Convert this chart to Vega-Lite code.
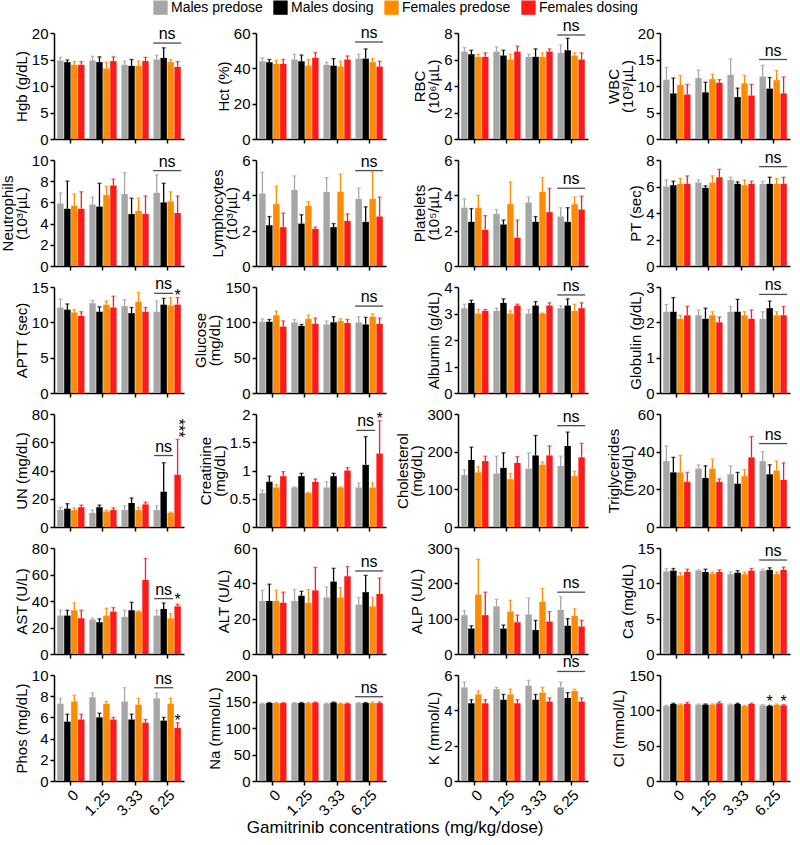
{
"$schema":"https://vega.github.io/schema/vega-lite/v6.json",
"padding":{"left":0,"top":0,"right":4,"bottom":2},
"columns":4,
"bounds":"flush",
"spacing":{"row":21,"column":72},
"title":{"text":"Gamitrinib concentrations (mg/kg/dose)","orient":"bottom","anchor":"middle","fontSize":17,"fontWeight":"normal","offset":2},
"data":{"values":[
{"p":"Hgb","x":"0","g":"Males predose","m":14.8,"h":15.4},{"p":"Hgb","x":"0","g":"Males dosing","m":14.5,"h":14.9},{"p":"Hgb","x":"0","g":"Females predose","m":14,"h":14.6},{"p":"Hgb","x":"0","g":"Females dosing","m":14,"h":14.6},
{"p":"Hgb","x":"1.25","g":"Males predose","m":14.8,"h":15.6},{"p":"Hgb","x":"1.25","g":"Males dosing","m":14.5,"h":15.5},{"p":"Hgb","x":"1.25","g":"Females predose","m":13.3,"h":14.5},{"p":"Hgb","x":"1.25","g":"Females dosing","m":14.7,"h":15.5},
{"p":"Hgb","x":"3.33","g":"Males predose","m":14,"h":14.7},{"p":"Hgb","x":"3.33","g":"Males dosing","m":13.8,"h":15},{"p":"Hgb","x":"3.33","g":"Females predose","m":13.8,"h":14.7},{"p":"Hgb","x":"3.33","g":"Females dosing","m":14.7,"h":15.4},
{"p":"Hgb","x":"6.25","g":"Males predose","m":15,"h":15.8},{"p":"Hgb","x":"6.25","g":"Males dosing","m":15.3,"h":17.2},{"p":"Hgb","x":"6.25","g":"Females predose","m":14.5,"h":15},{"p":"Hgb","x":"6.25","g":"Females dosing","m":13.6,"h":14.6},
{"p":"Hct","x":"0","g":"Males predose","m":44,"h":46},{"p":"Hct","x":"0","g":"Males dosing","m":43.5,"h":45},{"p":"Hct","x":"0","g":"Females predose","m":42.5,"h":44.5},{"p":"Hct","x":"0","g":"Females dosing","m":42.5,"h":45},
{"p":"Hct","x":"1.25","g":"Males predose","m":45,"h":48},{"p":"Hct","x":"1.25","g":"Males dosing","m":44,"h":47.5},{"p":"Hct","x":"1.25","g":"Females predose","m":41.5,"h":45},{"p":"Hct","x":"1.25","g":"Females dosing","m":46,"h":49},
{"p":"Hct","x":"3.33","g":"Males predose","m":42,"h":43.5},{"p":"Hct","x":"3.33","g":"Males dosing","m":41.5,"h":45.5},{"p":"Hct","x":"3.33","g":"Females predose","m":41,"h":44},{"p":"Hct","x":"3.33","g":"Females dosing","m":45,"h":47},
{"p":"Hct","x":"6.25","g":"Males predose","m":45.5,"h":48},{"p":"Hct","x":"6.25","g":"Males dosing","m":45.5,"h":51},{"p":"Hct","x":"6.25","g":"Females predose","m":43.5,"h":45.5},{"p":"Hct","x":"6.25","g":"Females dosing","m":41,"h":44},
{"p":"RBC","x":"0","g":"Males predose","m":6.6,"h":6.9},{"p":"RBC","x":"0","g":"Males dosing","m":6.4,"h":6.7},{"p":"RBC","x":"0","g":"Females predose","m":6.2,"h":6.4},{"p":"RBC","x":"0","g":"Females dosing","m":6.2,"h":6.5},
{"p":"RBC","x":"1.25","g":"Males predose","m":6.6,"h":6.95},{"p":"RBC","x":"1.25","g":"Males dosing","m":6.3,"h":6.7},{"p":"RBC","x":"1.25","g":"Females predose","m":6,"h":6.4},{"p":"RBC","x":"1.25","g":"Females dosing","m":6.6,"h":7},
{"p":"RBC","x":"3.33","g":"Males predose","m":6.2,"h":6.4},{"p":"RBC","x":"3.33","g":"Males dosing","m":6.2,"h":6.8},{"p":"RBC","x":"3.33","g":"Females predose","m":6.2,"h":6.5},{"p":"RBC","x":"3.33","g":"Females dosing","m":6.6,"h":6.8},
{"p":"RBC","x":"6.25","g":"Males predose","m":6.5,"h":7.1},{"p":"RBC","x":"6.25","g":"Males dosing","m":6.7,"h":7.6},{"p":"RBC","x":"6.25","g":"Females predose","m":6.3,"h":6.5},{"p":"RBC","x":"6.25","g":"Females dosing","m":6,"h":6.5},
{"p":"WBC","x":"0","g":"Males predose","m":11.2,"h":13.5},{"p":"WBC","x":"0","g":"Males dosing","m":8.6,"h":11.5},{"p":"WBC","x":"0","g":"Females predose","m":10.2,"h":12},{"p":"WBC","x":"0","g":"Females dosing","m":8.4,"h":10.3},
{"p":"WBC","x":"1.25","g":"Males predose","m":11.5,"h":13},{"p":"WBC","x":"1.25","g":"Males dosing","m":8.8,"h":10.7},{"p":"WBC","x":"1.25","g":"Females predose","m":11.3,"h":12.2},{"p":"WBC","x":"1.25","g":"Females dosing","m":10.6,"h":11.2},
{"p":"WBC","x":"3.33","g":"Males predose","m":12.1,"h":15.1},{"p":"WBC","x":"3.33","g":"Males dosing","m":7.9,"h":9.6},{"p":"WBC","x":"3.33","g":"Females predose","m":10.5,"h":12},{"p":"WBC","x":"3.33","g":"Females dosing","m":8.2,"h":10.3},
{"p":"WBC","x":"6.25","g":"Males predose","m":11.8,"h":13.9},{"p":"WBC","x":"6.25","g":"Males dosing","m":9.5,"h":11.6},{"p":"WBC","x":"6.25","g":"Females predose","m":11.1,"h":12.9},{"p":"WBC","x":"6.25","g":"Females dosing","m":8.6,"h":11.7},
{"p":"Neu","x":"0","g":"Males predose","m":5.9,"h":6.9},{"p":"Neu","x":"0","g":"Males dosing","m":5.4,"h":8},{"p":"Neu","x":"0","g":"Females predose","m":5.7,"h":6.8},{"p":"Neu","x":"0","g":"Females dosing","m":5.4,"h":7},
{"p":"Neu","x":"1.25","g":"Males predose","m":5.8,"h":6.5},{"p":"Neu","x":"1.25","g":"Males dosing","m":5.6,"h":7.8},{"p":"Neu","x":"1.25","g":"Females predose","m":6.7,"h":7.5},{"p":"Neu","x":"1.25","g":"Females dosing","m":7.6,"h":8.2},
{"p":"Neu","x":"3.33","g":"Males predose","m":6.8,"h":8.8},{"p":"Neu","x":"3.33","g":"Males dosing","m":4.9,"h":6.4},{"p":"Neu","x":"3.33","g":"Females predose","m":5.2,"h":6.4},{"p":"Neu","x":"3.33","g":"Females dosing","m":4.9,"h":6.6},
{"p":"Neu","x":"6.25","g":"Males predose","m":6.9,"h":8.6},{"p":"Neu","x":"6.25","g":"Males dosing","m":6,"h":7.8},{"p":"Neu","x":"6.25","g":"Females predose","m":6.1,"h":7},{"p":"Neu","x":"6.25","g":"Females dosing","m":5,"h":6.6},
{"p":"Lym","x":"0","g":"Males predose","m":4.1,"h":5.3},{"p":"Lym","x":"0","g":"Males dosing","m":2.3,"h":2.8},{"p":"Lym","x":"0","g":"Females predose","m":3.5,"h":4.5},{"p":"Lym","x":"0","g":"Females dosing","m":2.2,"h":3},
{"p":"Lym","x":"1.25","g":"Males predose","m":4.3,"h":5.1},{"p":"Lym","x":"1.25","g":"Males dosing","m":2.4,"h":2.9},{"p":"Lym","x":"1.25","g":"Females predose","m":3.4,"h":3.65},{"p":"Lym","x":"1.25","g":"Females dosing","m":2.1,"h":2.2},
{"p":"Lym","x":"3.33","g":"Males predose","m":4.2,"h":5},{"p":"Lym","x":"3.33","g":"Males dosing","m":2.2,"h":2.4},{"p":"Lym","x":"3.33","g":"Females predose","m":4.2,"h":5.2},{"p":"Lym","x":"3.33","g":"Females dosing","m":2.55,"h":2.95},
{"p":"Lym","x":"6.25","g":"Males predose","m":3.8,"h":4.4},{"p":"Lym","x":"6.25","g":"Males dosing","m":2.5,"h":3.35},{"p":"Lym","x":"6.25","g":"Females predose","m":3.8,"h":5.3},{"p":"Lym","x":"6.25","g":"Females dosing","m":2.8,"h":3.9},
{"p":"Plt","x":"0","g":"Males predose","m":3.3,"h":3.8},{"p":"Plt","x":"0","g":"Males dosing","m":2.5,"h":3.25},{"p":"Plt","x":"0","g":"Females predose","m":3.3,"h":4},{"p":"Plt","x":"0","g":"Females dosing","m":2.05,"h":2.85},
{"p":"Plt","x":"1.25","g":"Males predose","m":2.95,"h":3.2},{"p":"Plt","x":"1.25","g":"Males dosing","m":2.35,"h":2.6},{"p":"Plt","x":"1.25","g":"Females predose","m":3.5,"h":4.75},{"p":"Plt","x":"1.25","g":"Females dosing","m":1.6,"h":2.6},
{"p":"Plt","x":"3.33","g":"Males predose","m":3.6,"h":3.9},{"p":"Plt","x":"3.33","g":"Males dosing","m":2.5,"h":2.8},{"p":"Plt","x":"3.33","g":"Females predose","m":4.2,"h":5},{"p":"Plt","x":"3.33","g":"Females dosing","m":3.05,"h":4.4},
{"p":"Plt","x":"6.25","g":"Males predose","m":2.8,"h":3.3},{"p":"Plt","x":"6.25","g":"Males dosing","m":2.5,"h":3.3},{"p":"Plt","x":"6.25","g":"Females predose","m":3.5,"h":3.9},{"p":"Plt","x":"6.25","g":"Females dosing","m":3.2,"h":3.95},
{"p":"PT","x":"0","g":"Males predose","m":6,"h":6.5},{"p":"PT","x":"0","g":"Males dosing","m":6.1,"h":6.4},{"p":"PT","x":"0","g":"Females predose","m":6.2,"h":6.6},{"p":"PT","x":"0","g":"Females dosing","m":6.2,"h":6.8},
{"p":"PT","x":"1.25","g":"Males predose","m":6.3,"h":6.5},{"p":"PT","x":"1.25","g":"Males dosing","m":5.9,"h":6.05},{"p":"PT","x":"1.25","g":"Females predose","m":6.3,"h":6.8},{"p":"PT","x":"1.25","g":"Females dosing","m":6.7,"h":7.3},
{"p":"PT","x":"3.33","g":"Males predose","m":6.5,"h":6.7},{"p":"PT","x":"3.33","g":"Males dosing","m":6.2,"h":6.35},{"p":"PT","x":"3.33","g":"Females predose","m":6.1,"h":6.5},{"p":"PT","x":"3.33","g":"Females dosing","m":6.2,"h":6.4},
{"p":"PT","x":"6.25","g":"Males predose","m":6.2,"h":6.4},{"p":"PT","x":"6.25","g":"Males dosing","m":6.2,"h":6.7},{"p":"PT","x":"6.25","g":"Females predose","m":6.2,"h":6.6},{"p":"PT","x":"6.25","g":"Females dosing","m":6.2,"h":6.7},
{"p":"APTT","x":"0","g":"Males predose","m":12.1,"h":13.3},{"p":"APTT","x":"0","g":"Males dosing","m":11.8,"h":12.6},{"p":"APTT","x":"0","g":"Females predose","m":11.4,"h":11.8},{"p":"APTT","x":"0","g":"Females dosing","m":10.9,"h":11.5},
{"p":"APTT","x":"1.25","g":"Males predose","m":12.7,"h":13.1},{"p":"APTT","x":"1.25","g":"Males dosing","m":11.5,"h":12.2},{"p":"APTT","x":"1.25","g":"Females predose","m":12.5,"h":13},{"p":"APTT","x":"1.25","g":"Females dosing","m":12.1,"h":13.7},
{"p":"APTT","x":"3.33","g":"Males predose","m":12.3,"h":13.2},{"p":"APTT","x":"3.33","g":"Males dosing","m":11.3,"h":12.1},{"p":"APTT","x":"3.33","g":"Females predose","m":12.9,"h":14.2},{"p":"APTT","x":"3.33","g":"Females dosing","m":11.5,"h":12.1},
{"p":"APTT","x":"6.25","g":"Males predose","m":11.5,"h":13},{"p":"APTT","x":"6.25","g":"Males dosing","m":12.5,"h":13.4},{"p":"APTT","x":"6.25","g":"Females predose","m":12.4,"h":13.5},{"p":"APTT","x":"6.25","g":"Females dosing","m":12.5,"h":13.5},
{"p":"Glu","x":"0","g":"Males predose","m":101,"h":105},{"p":"Glu","x":"0","g":"Males dosing","m":101,"h":104},{"p":"Glu","x":"0","g":"Females predose","m":110,"h":116},{"p":"Glu","x":"0","g":"Females dosing","m":94,"h":102},
{"p":"Glu","x":"1.25","g":"Males predose","m":100,"h":104},{"p":"Glu","x":"1.25","g":"Males dosing","m":95,"h":97},{"p":"Glu","x":"1.25","g":"Females predose","m":105,"h":110},{"p":"Glu","x":"1.25","g":"Females dosing","m":98,"h":106},
{"p":"Glu","x":"3.33","g":"Males predose","m":97,"h":102},{"p":"Glu","x":"3.33","g":"Males dosing","m":100,"h":108},{"p":"Glu","x":"3.33","g":"Females predose","m":102,"h":105},{"p":"Glu","x":"3.33","g":"Females dosing","m":99,"h":104},
{"p":"Glu","x":"6.25","g":"Males predose","m":100,"h":108},{"p":"Glu","x":"6.25","g":"Males dosing","m":97,"h":107},{"p":"Glu","x":"6.25","g":"Females predose","m":108,"h":112},{"p":"Glu","x":"6.25","g":"Females dosing","m":98,"h":106},
{"p":"Alb","x":"0","g":"Males predose","m":3.2,"h":3.35},{"p":"Alb","x":"0","g":"Males dosing","m":3.4,"h":3.5},{"p":"Alb","x":"0","g":"Females predose","m":3,"h":3.15},{"p":"Alb","x":"0","g":"Females dosing","m":3.1,"h":3.15},
{"p":"Alb","x":"1.25","g":"Males predose","m":3.1,"h":3.2},{"p":"Alb","x":"1.25","g":"Males dosing","m":3.4,"h":3.55},{"p":"Alb","x":"1.25","g":"Females predose","m":3,"h":3.1},{"p":"Alb","x":"1.25","g":"Females dosing","m":3.3,"h":3.35},
{"p":"Alb","x":"3.33","g":"Males predose","m":3,"h":3.15},{"p":"Alb","x":"3.33","g":"Males dosing","m":3.3,"h":3.45},{"p":"Alb","x":"3.33","g":"Females predose","m":3,"h":3.02},{"p":"Alb","x":"3.33","g":"Females dosing","m":3.3,"h":3.4},
{"p":"Alb","x":"6.25","g":"Males predose","m":3.2,"h":3.3},{"p":"Alb","x":"6.25","g":"Males dosing","m":3.3,"h":3.55},{"p":"Alb","x":"6.25","g":"Females predose","m":3.1,"h":3.35},{"p":"Alb","x":"6.25","g":"Females dosing","m":3.2,"h":3.4},
{"p":"Glo","x":"0","g":"Males predose","m":2.3,"h":2.5},{"p":"Glo","x":"0","g":"Males dosing","m":2.3,"h":2.7},{"p":"Glo","x":"0","g":"Females predose","m":2.1,"h":2.2},{"p":"Glo","x":"0","g":"Females dosing","m":2.2,"h":2.45},
{"p":"Glo","x":"1.25","g":"Males predose","m":2.2,"h":2.35},{"p":"Glo","x":"1.25","g":"Males dosing","m":2.1,"h":2.4},{"p":"Glo","x":"1.25","g":"Females predose","m":2.2,"h":2.3},{"p":"Glo","x":"1.25","g":"Females dosing","m":2,"h":2.15},
{"p":"Glo","x":"3.33","g":"Males predose","m":2.3,"h":2.45},{"p":"Glo","x":"3.33","g":"Males dosing","m":2.3,"h":2.65},{"p":"Glo","x":"3.33","g":"Females predose","m":2.2,"h":2.3},{"p":"Glo","x":"3.33","g":"Females dosing","m":2.1,"h":2.35},
{"p":"Glo","x":"6.25","g":"Males predose","m":2.1,"h":2.3},{"p":"Glo","x":"6.25","g":"Males dosing","m":2.4,"h":2.6},{"p":"Glo","x":"6.25","g":"Females predose","m":2.2,"h":2.3},{"p":"Glo","x":"6.25","g":"Females dosing","m":2.2,"h":2.45},
{"p":"UN","x":"0","g":"Males predose","m":12,"h":14},{"p":"UN","x":"0","g":"Males dosing","m":13,"h":16.5},{"p":"UN","x":"0","g":"Females predose","m":12,"h":13.5},{"p":"UN","x":"0","g":"Females dosing","m":14,"h":15.5},
{"p":"UN","x":"1.25","g":"Males predose","m":10,"h":12},{"p":"UN","x":"1.25","g":"Males dosing","m":14,"h":15.5},{"p":"UN","x":"1.25","g":"Females predose","m":11,"h":12},{"p":"UN","x":"1.25","g":"Females dosing","m":12,"h":13.5},
{"p":"UN","x":"3.33","g":"Males predose","m":12,"h":15},{"p":"UN","x":"3.33","g":"Males dosing","m":17,"h":20.5},{"p":"UN","x":"3.33","g":"Females predose","m":12,"h":14},{"p":"UN","x":"3.33","g":"Females dosing","m":16,"h":17.5},
{"p":"UN","x":"6.25","g":"Males predose","m":12,"h":15},{"p":"UN","x":"6.25","g":"Males dosing","m":25,"h":45.5},{"p":"UN","x":"6.25","g":"Females predose","m":10,"h":10.5},{"p":"UN","x":"6.25","g":"Females dosing","m":37,"h":62},
{"p":"Cre","x":"0","g":"Males predose","m":0.6,"h":0.65},{"p":"Cre","x":"0","g":"Males dosing","m":0.8,"h":0.9},{"p":"Cre","x":"0","g":"Females predose","m":0.7,"h":0.75},{"p":"Cre","x":"0","g":"Females dosing","m":0.9,"h":0.98},
{"p":"Cre","x":"1.25","g":"Males predose","m":0.7,"h":0.71},{"p":"Cre","x":"1.25","g":"Males dosing","m":0.9,"h":0.95},{"p":"Cre","x":"1.25","g":"Females predose","m":0.6,"h":0.61},{"p":"Cre","x":"1.25","g":"Females dosing","m":0.8,"h":0.85},
{"p":"Cre","x":"3.33","g":"Males predose","m":0.7,"h":0.8},{"p":"Cre","x":"3.33","g":"Males dosing","m":0.9,"h":0.95},{"p":"Cre","x":"3.33","g":"Females predose","m":0.7,"h":0.71},{"p":"Cre","x":"3.33","g":"Females dosing","m":1,"h":1.05},
{"p":"Cre","x":"6.25","g":"Males predose","m":0.7,"h":0.78},{"p":"Cre","x":"6.25","g":"Males dosing","m":1.1,"h":1.6},{"p":"Cre","x":"6.25","g":"Females predose","m":0.7,"h":0.78},{"p":"Cre","x":"6.25","g":"Females dosing","m":1.3,"h":1.88},
{"p":"Cho","x":"0","g":"Males predose","m":138,"h":152},{"p":"Cho","x":"0","g":"Males dosing","m":178,"h":212},{"p":"Cho","x":"0","g":"Females predose","m":145,"h":160},{"p":"Cho","x":"0","g":"Females dosing","m":175,"h":188},
{"p":"Cho","x":"1.25","g":"Males predose","m":142,"h":188},{"p":"Cho","x":"1.25","g":"Males dosing","m":157,"h":197},{"p":"Cho","x":"1.25","g":"Females predose","m":127,"h":142},{"p":"Cho","x":"1.25","g":"Females dosing","m":170,"h":187},
{"p":"Cho","x":"3.33","g":"Males predose","m":155,"h":197},{"p":"Cho","x":"3.33","g":"Males dosing","m":190,"h":243},{"p":"Cho","x":"3.33","g":"Females predose","m":165,"h":173},{"p":"Cho","x":"3.33","g":"Females dosing","m":190,"h":215},
{"p":"Cho","x":"6.25","g":"Males predose","m":162,"h":188},{"p":"Cho","x":"6.25","g":"Males dosing","m":215,"h":252},{"p":"Cho","x":"6.25","g":"Females predose","m":135,"h":148},{"p":"Cho","x":"6.25","g":"Females dosing","m":185,"h":222},
{"p":"Tri","x":"0","g":"Males predose","m":35,"h":43},{"p":"Tri","x":"0","g":"Males dosing","m":29,"h":37},{"p":"Tri","x":"0","g":"Females predose","m":29,"h":38},{"p":"Tri","x":"0","g":"Females dosing","m":24,"h":29},
{"p":"Tri","x":"1.25","g":"Males predose","m":31,"h":33},{"p":"Tri","x":"1.25","g":"Males dosing","m":26,"h":32.5},{"p":"Tri","x":"1.25","g":"Females predose","m":31,"h":36},{"p":"Tri","x":"1.25","g":"Females dosing","m":24,"h":25.5},
{"p":"Tri","x":"3.33","g":"Males predose","m":28,"h":32.5},{"p":"Tri","x":"3.33","g":"Males dosing","m":23,"h":29},{"p":"Tri","x":"3.33","g":"Females predose","m":27,"h":30.5},{"p":"Tri","x":"3.33","g":"Females dosing","m":37,"h":48},
{"p":"Tri","x":"6.25","g":"Males predose","m":35,"h":40},{"p":"Tri","x":"6.25","g":"Males dosing","m":28,"h":33},{"p":"Tri","x":"6.25","g":"Females predose","m":30,"h":35},{"p":"Tri","x":"6.25","g":"Females dosing","m":25,"h":34},
{"p":"AST","x":"0","g":"Males predose","m":29,"h":33},{"p":"AST","x":"0","g":"Males dosing","m":29,"h":33},{"p":"AST","x":"0","g":"Females predose","m":33,"h":38.5},{"p":"AST","x":"0","g":"Females dosing","m":27,"h":33},
{"p":"AST","x":"1.25","g":"Males predose","m":26,"h":27},{"p":"AST","x":"1.25","g":"Males dosing","m":24,"h":26.5},{"p":"AST","x":"1.25","g":"Females predose","m":29,"h":34.5},{"p":"AST","x":"1.25","g":"Females dosing","m":32,"h":35},
{"p":"AST","x":"3.33","g":"Males predose","m":28,"h":33},{"p":"AST","x":"3.33","g":"Males dosing","m":33,"h":39},{"p":"AST","x":"3.33","g":"Females predose","m":32,"h":32.5},{"p":"AST","x":"3.33","g":"Females dosing","m":56,"h":72},
{"p":"AST","x":"6.25","g":"Males predose","m":29,"h":33},{"p":"AST","x":"6.25","g":"Males dosing","m":34,"h":38.5},{"p":"AST","x":"6.25","g":"Females predose","m":27,"h":30.5},{"p":"AST","x":"6.25","g":"Females dosing","m":36,"h":37.5},
{"p":"ALT","x":"0","g":"Males predose","m":30,"h":36},{"p":"ALT","x":"0","g":"Males dosing","m":30,"h":39.5},{"p":"ALT","x":"0","g":"Females predose","m":30,"h":36},{"p":"ALT","x":"0","g":"Females dosing","m":29,"h":35},
{"p":"ALT","x":"1.25","g":"Males predose","m":30,"h":36.5},{"p":"ALT","x":"1.25","g":"Males dosing","m":33,"h":35.5},{"p":"ALT","x":"1.25","g":"Females predose","m":29,"h":36.5},{"p":"ALT","x":"1.25","g":"Females dosing","m":36,"h":49},
{"p":"ALT","x":"3.33","g":"Males predose","m":32,"h":38},{"p":"ALT","x":"3.33","g":"Males dosing","m":41,"h":48.5},{"p":"ALT","x":"3.33","g":"Females predose","m":32,"h":37.5},{"p":"ALT","x":"3.33","g":"Females dosing","m":44,"h":49.5},
{"p":"ALT","x":"6.25","g":"Males predose","m":28,"h":32},{"p":"ALT","x":"6.25","g":"Males dosing","m":35,"h":44.5},{"p":"ALT","x":"6.25","g":"Females predose","m":27,"h":32},{"p":"ALT","x":"6.25","g":"Females dosing","m":34,"h":43},
{"p":"ALP","x":"0","g":"Males predose","m":110,"h":123},{"p":"ALP","x":"0","g":"Males dosing","m":72,"h":80},{"p":"ALP","x":"0","g":"Females predose","m":168,"h":268},{"p":"ALP","x":"0","g":"Females dosing","m":110,"h":175},
{"p":"ALP","x":"1.25","g":"Males predose","m":135,"h":155},{"p":"ALP","x":"1.25","g":"Males dosing","m":72,"h":82},{"p":"ALP","x":"1.25","g":"Females predose","m":120,"h":152},{"p":"ALP","x":"1.25","g":"Females dosing","m":90,"h":110},
{"p":"ALP","x":"3.33","g":"Males predose","m":112,"h":158},{"p":"ALP","x":"3.33","g":"Males dosing","m":68,"h":95},{"p":"ALP","x":"3.33","g":"Females predose","m":148,"h":185},{"p":"ALP","x":"3.33","g":"Females dosing","m":92,"h":120},
{"p":"ALP","x":"6.25","g":"Males predose","m":125,"h":162},{"p":"ALP","x":"6.25","g":"Males dosing","m":80,"h":100},{"p":"ALP","x":"6.25","g":"Females predose","m":108,"h":128},{"p":"ALP","x":"6.25","g":"Females dosing","m":78,"h":95},
{"p":"Ca","x":"0","g":"Males predose","m":11.7,"h":12.1},{"p":"Ca","x":"0","g":"Males dosing","m":11.8,"h":12.1},{"p":"Ca","x":"0","g":"Females predose","m":11.1,"h":11.5},{"p":"Ca","x":"0","g":"Females dosing","m":11.6,"h":12},
{"p":"Ca","x":"1.25","g":"Males predose","m":11.8,"h":11.9},{"p":"Ca","x":"1.25","g":"Males dosing","m":11.6,"h":12},{"p":"Ca","x":"1.25","g":"Females predose","m":11.4,"h":11.6},{"p":"Ca","x":"1.25","g":"Females dosing","m":11.6,"h":11.9},
{"p":"Ca","x":"3.33","g":"Males predose","m":11.3,"h":11.6},{"p":"Ca","x":"3.33","g":"Males dosing","m":11.5,"h":11.8},{"p":"Ca","x":"3.33","g":"Females predose","m":11.3,"h":11.6},{"p":"Ca","x":"3.33","g":"Females dosing","m":11.8,"h":12.1},
{"p":"Ca","x":"6.25","g":"Males predose","m":11.8,"h":12},{"p":"Ca","x":"6.25","g":"Males dosing","m":11.9,"h":12.2},{"p":"Ca","x":"6.25","g":"Females predose","m":11.3,"h":11.6},{"p":"Ca","x":"6.25","g":"Females dosing","m":11.9,"h":12.3},
{"p":"Phos","x":"0","g":"Males predose","m":7.3,"h":7.8},{"p":"Phos","x":"0","g":"Males dosing","m":5.6,"h":6.3},{"p":"Phos","x":"0","g":"Females predose","m":7.5,"h":8.1},{"p":"Phos","x":"0","g":"Females dosing","m":5.8,"h":6.3},
{"p":"Phos","x":"1.25","g":"Males predose","m":7.9,"h":8.3},{"p":"Phos","x":"1.25","g":"Males dosing","m":6,"h":6.4},{"p":"Phos","x":"1.25","g":"Females predose","m":7.3,"h":7.5},{"p":"Phos","x":"1.25","g":"Females dosing","m":5.8,"h":6},
{"p":"Phos","x":"3.33","g":"Males predose","m":7.5,"h":8.8},{"p":"Phos","x":"3.33","g":"Males dosing","m":5.8,"h":6.3},{"p":"Phos","x":"3.33","g":"Females predose","m":7.2,"h":7.8},{"p":"Phos","x":"3.33","g":"Females dosing","m":5.5,"h":5.8},
{"p":"Phos","x":"6.25","g":"Males predose","m":7.8,"h":8.3},{"p":"Phos","x":"6.25","g":"Males dosing","m":5.7,"h":6},{"p":"Phos","x":"6.25","g":"Females predose","m":7.3,"h":7.8},{"p":"Phos","x":"6.25","g":"Females dosing","m":5,"h":5.5},
{"p":"Na","x":"0","g":"Males predose","m":146,"h":147},{"p":"Na","x":"0","g":"Males dosing","m":147,"h":148},{"p":"Na","x":"0","g":"Females predose","m":147,"h":148},{"p":"Na","x":"0","g":"Females dosing","m":147,"h":148},
{"p":"Na","x":"1.25","g":"Males predose","m":147,"h":148},{"p":"Na","x":"1.25","g":"Males dosing","m":147,"h":148},{"p":"Na","x":"1.25","g":"Females predose","m":147,"h":148},{"p":"Na","x":"1.25","g":"Females dosing","m":148,"h":149},
{"p":"Na","x":"3.33","g":"Males predose","m":146,"h":147},{"p":"Na","x":"3.33","g":"Males dosing","m":148,"h":149},{"p":"Na","x":"3.33","g":"Females predose","m":146,"h":147},{"p":"Na","x":"3.33","g":"Females dosing","m":146,"h":147},
{"p":"Na","x":"6.25","g":"Males predose","m":147,"h":148},{"p":"Na","x":"6.25","g":"Males dosing","m":147,"h":148},{"p":"Na","x":"6.25","g":"Females predose","m":147,"h":149},{"p":"Na","x":"6.25","g":"Females dosing","m":147,"h":149},
{"p":"K","x":"0","g":"Males predose","m":5.3,"h":5.6},{"p":"K","x":"0","g":"Males dosing","m":4.4,"h":4.6},{"p":"K","x":"0","g":"Females predose","m":4.9,"h":5.1},{"p":"K","x":"0","g":"Females dosing","m":4.4,"h":4.6},
{"p":"K","x":"1.25","g":"Males predose","m":5.2,"h":5.3},{"p":"K","x":"1.25","g":"Males dosing","m":4.6,"h":4.9},{"p":"K","x":"1.25","g":"Females predose","m":4.9,"h":5.2},{"p":"K","x":"1.25","g":"Females dosing","m":4.4,"h":4.6},
{"p":"K","x":"3.33","g":"Males predose","m":5.4,"h":5.7},{"p":"K","x":"3.33","g":"Males dosing","m":4.6,"h":4.9},{"p":"K","x":"3.33","g":"Females predose","m":5,"h":5.3},{"p":"K","x":"3.33","g":"Females dosing","m":4.5,"h":4.7},
{"p":"K","x":"6.25","g":"Males predose","m":5.3,"h":5.6},{"p":"K","x":"6.25","g":"Males dosing","m":4.7,"h":5},{"p":"K","x":"6.25","g":"Females predose","m":5.1,"h":5.2},{"p":"K","x":"6.25","g":"Females dosing","m":4.5,"h":4.7},
{"p":"Cl","x":"0","g":"Males predose","m":106,"h":107},{"p":"Cl","x":"0","g":"Males dosing","m":109,"h":110},{"p":"Cl","x":"0","g":"Females predose","m":108,"h":109},{"p":"Cl","x":"0","g":"Females dosing","m":109,"h":111},
{"p":"Cl","x":"1.25","g":"Males predose","m":108,"h":109},{"p":"Cl","x":"1.25","g":"Males dosing","m":108,"h":109},{"p":"Cl","x":"1.25","g":"Females predose","m":108,"h":109},{"p":"Cl","x":"1.25","g":"Females dosing","m":110,"h":112},
{"p":"Cl","x":"3.33","g":"Males predose","m":108,"h":109},{"p":"Cl","x":"3.33","g":"Males dosing","m":109,"h":110},{"p":"Cl","x":"3.33","g":"Females predose","m":106,"h":107},{"p":"Cl","x":"3.33","g":"Females dosing","m":109,"h":110},
{"p":"Cl","x":"6.25","g":"Males predose","m":107,"h":108},{"p":"Cl","x":"6.25","g":"Males dosing","m":106,"h":107},{"p":"Cl","x":"6.25","g":"Females predose","m":108,"h":109},{"p":"Cl","x":"6.25","g":"Females dosing","m":107,"h":108},
{"p":"Hgb","x":"6.25","t":"ns","ya":18.1},{"p":"Hct","x":"6.25","t":"ns","ya":54.9},{"p":"RBC","x":"6.25","t":"ns","ya":7.85},{"p":"WBC","x":"6.25","t":"ns","ya":15},
{"p":"Neu","x":"6.25","t":"ns","ya":9},{"p":"Lym","x":"6.25","t":"ns","ya":5.4},{"p":"Plt","x":"6.25","t":"ns","ya":4.4},{"p":"PT","x":"6.25","t":"ns","ya":7.5},
{"p":"APTT","x":"6.25","g":"Males dosing","t":"ns","ym":14.1},{"p":"APTT","x":"6.25","g":"Females dosing","t":"*","ys":14.3},
{"p":"Glu","x":"6.25","t":"ns","ya":123},{"p":"Alb","x":"6.25","t":"ns","ya":3.7},{"p":"Glo","x":"6.25","t":"ns","ya":2.79},
{"p":"UN","x":"6.25","g":"Males dosing","t":"ns","ym":50.6},{"p":"UN","x":"6.25","g":"Females dosing","t":"***","yv":70},
{"p":"Cre","x":"6.25","g":"Males dosing","t":"ns","ym":1.71},{"p":"Cre","x":"6.25","g":"Females dosing","t":"*","ys":1.98},
{"p":"Cho","x":"6.25","t":"ns","ya":269},{"p":"Tri","x":"6.25","t":"ns","ya":44.3},
{"p":"AST","x":"6.25","g":"Males dosing","t":"ns","ym":41.8},{"p":"AST","x":"6.25","g":"Females dosing","t":"*","ys":43.8},
{"p":"ALT","x":"6.25","t":"ns","ya":47},{"p":"ALP","x":"6.25","t":"ns","ya":175},{"p":"Ca","x":"6.25","t":"ns","ya":13.3},
{"p":"Phos","x":"6.25","g":"Males dosing","t":"ns","ym":8.8},{"p":"Phos","x":"6.25","g":"Females dosing","t":"*","ys":6},
{"p":"Na","x":"6.25","t":"ns","ya":159},{"p":"K","x":"6.25","t":"ns","ya":6.2},
{"p":"Cl","x":"6.25","g":"Males dosing","t":"*","ys":118},{"p":"Cl","x":"6.25","g":"Females dosing","t":"*","ys":118}
]},
"concat":[
{"transform":[{"filter":"datum.p=='Hgb'"}],"encoding":{"x":{"field":"x","type":"nominal","title":null,"scale":{"paddingInner":0.15,"paddingOuter":0.1},"axis":{"labels":false}},"y":{"field":"m","type":"quantitative","scale":{"domain":[0,20]},"axis":{"title":"Hgb (g/dL)","values":[0,5,10,15,20],"labelOverlap":false}}},"layer":[
{"mark":"bar","encoding":{"xOffset":{"field":"g","type":"nominal","sort":null},"color":{"field":"g","type":"nominal","sort":null,"title":null}}},
{"mark":"rule","encoding":{"xOffset":{"field":"g","type":"nominal","sort":null},"y2":{"field":"h"},"color":{"field":"g","type":"nominal","sort":null,"title":null}}},
{"mark":{"type":"tick","size":4},"encoding":{"xOffset":{"field":"g","type":"nominal","sort":null},"y":{"field":"h"},"color":{"field":"g","type":"nominal","sort":null,"title":null}}},
{"mark":{"type":"tick","size":28,"color":"#000"},"encoding":{"y":{"field":"ya"}}},
{"mark":{"type":"text","baseline":"bottom","dy":-1},"encoding":{"y":{"field":"ya"},"text":{"field":"t"}}}]},
{"transform":[{"filter":"datum.p=='Hct'"}],"encoding":{"x":{"field":"x","type":"nominal","title":null,"scale":{"paddingInner":0.15,"paddingOuter":0.1},"axis":{"labels":false}},"y":{"field":"m","type":"quantitative","scale":{"domain":[0,60]},"axis":{"title":"Hct (%)","values":[0,20,40,60],"labelOverlap":false}}},"layer":[
{"mark":"bar","encoding":{"xOffset":{"field":"g","type":"nominal","sort":null},"color":{"field":"g","type":"nominal","sort":null,"title":null}}},
{"mark":"rule","encoding":{"xOffset":{"field":"g","type":"nominal","sort":null},"y2":{"field":"h"},"color":{"field":"g","type":"nominal","sort":null,"title":null}}},
{"mark":{"type":"tick","size":4},"encoding":{"xOffset":{"field":"g","type":"nominal","sort":null},"y":{"field":"h"},"color":{"field":"g","type":"nominal","sort":null,"title":null}}},
{"mark":{"type":"tick","size":28,"color":"#000"},"encoding":{"y":{"field":"ya"}}},
{"mark":{"type":"text","baseline":"bottom","dy":-1},"encoding":{"y":{"field":"ya"},"text":{"field":"t"}}}]},
{"transform":[{"filter":"datum.p=='RBC'"}],"encoding":{"x":{"field":"x","type":"nominal","title":null,"scale":{"paddingInner":0.15,"paddingOuter":0.1},"axis":{"labels":false}},"y":{"field":"m","type":"quantitative","scale":{"domain":[0,8]},"axis":{"title":["RBC","(10⁶/µL)"],"values":[0,2,4,6,8],"labelOverlap":false}}},"layer":[
{"mark":"bar","encoding":{"xOffset":{"field":"g","type":"nominal","sort":null},"color":{"field":"g","type":"nominal","sort":null,"title":null}}},
{"mark":"rule","encoding":{"xOffset":{"field":"g","type":"nominal","sort":null},"y2":{"field":"h"},"color":{"field":"g","type":"nominal","sort":null,"title":null}}},
{"mark":{"type":"tick","size":4},"encoding":{"xOffset":{"field":"g","type":"nominal","sort":null},"y":{"field":"h"},"color":{"field":"g","type":"nominal","sort":null,"title":null}}},
{"mark":{"type":"tick","size":28,"color":"#000"},"encoding":{"y":{"field":"ya"}}},
{"mark":{"type":"text","baseline":"bottom","dy":-1},"encoding":{"y":{"field":"ya"},"text":{"field":"t"}}}]},
{"transform":[{"filter":"datum.p=='WBC'"}],"encoding":{"x":{"field":"x","type":"nominal","title":null,"scale":{"paddingInner":0.15,"paddingOuter":0.1},"axis":{"labels":false}},"y":{"field":"m","type":"quantitative","scale":{"domain":[0,20]},"axis":{"title":["WBC","(10³/µL)"],"values":[0,5,10,15,20],"labelOverlap":false}}},"layer":[
{"mark":"bar","encoding":{"xOffset":{"field":"g","type":"nominal","sort":null},"color":{"field":"g","type":"nominal","sort":null,"title":null}}},
{"mark":"rule","encoding":{"xOffset":{"field":"g","type":"nominal","sort":null},"y2":{"field":"h"},"color":{"field":"g","type":"nominal","sort":null,"title":null}}},
{"mark":{"type":"tick","size":4},"encoding":{"xOffset":{"field":"g","type":"nominal","sort":null},"y":{"field":"h"},"color":{"field":"g","type":"nominal","sort":null,"title":null}}},
{"mark":{"type":"tick","size":28,"color":"#000"},"encoding":{"y":{"field":"ya"}}},
{"mark":{"type":"text","baseline":"bottom","dy":-1},"encoding":{"y":{"field":"ya"},"text":{"field":"t"}}}]},
{"transform":[{"filter":"datum.p=='Neu'"}],"encoding":{"x":{"field":"x","type":"nominal","title":null,"scale":{"paddingInner":0.15,"paddingOuter":0.1},"axis":{"labels":false}},"y":{"field":"m","type":"quantitative","scale":{"domain":[0,10]},"axis":{"title":["Neutrophils","(10³/µL)"],"values":[0,2,4,6,8,10],"labelOverlap":false}}},"layer":[
{"mark":"bar","encoding":{"xOffset":{"field":"g","type":"nominal","sort":null},"color":{"field":"g","type":"nominal","sort":null,"title":null}}},
{"mark":"rule","encoding":{"xOffset":{"field":"g","type":"nominal","sort":null},"y2":{"field":"h"},"color":{"field":"g","type":"nominal","sort":null,"title":null}}},
{"mark":{"type":"tick","size":4},"encoding":{"xOffset":{"field":"g","type":"nominal","sort":null},"y":{"field":"h"},"color":{"field":"g","type":"nominal","sort":null,"title":null}}},
{"mark":{"type":"tick","size":28,"color":"#000"},"encoding":{"y":{"field":"ya"}}},
{"mark":{"type":"text","baseline":"bottom","dy":-1},"encoding":{"y":{"field":"ya"},"text":{"field":"t"}}}]},
{"transform":[{"filter":"datum.p=='Lym'"}],"encoding":{"x":{"field":"x","type":"nominal","title":null,"scale":{"paddingInner":0.15,"paddingOuter":0.1},"axis":{"labels":false}},"y":{"field":"m","type":"quantitative","scale":{"domain":[0,6]},"axis":{"title":["Lymphocytes","(10³/µL)"],"values":[0,2,4,6],"labelOverlap":false}}},"layer":[
{"mark":"bar","encoding":{"xOffset":{"field":"g","type":"nominal","sort":null},"color":{"field":"g","type":"nominal","sort":null,"title":null}}},
{"mark":"rule","encoding":{"xOffset":{"field":"g","type":"nominal","sort":null},"y2":{"field":"h"},"color":{"field":"g","type":"nominal","sort":null,"title":null}}},
{"mark":{"type":"tick","size":4},"encoding":{"xOffset":{"field":"g","type":"nominal","sort":null},"y":{"field":"h"},"color":{"field":"g","type":"nominal","sort":null,"title":null}}},
{"mark":{"type":"tick","size":28,"color":"#000"},"encoding":{"y":{"field":"ya"}}},
{"mark":{"type":"text","baseline":"bottom","dy":-1},"encoding":{"y":{"field":"ya"},"text":{"field":"t"}}}]},
{"transform":[{"filter":"datum.p=='Plt'"}],"encoding":{"x":{"field":"x","type":"nominal","title":null,"scale":{"paddingInner":0.15,"paddingOuter":0.1},"axis":{"labels":false}},"y":{"field":"m","type":"quantitative","scale":{"domain":[0,6]},"axis":{"title":["Platelets","(10⁵/µL)"],"values":[0,2,4,6],"labelOverlap":false}}},"layer":[
{"mark":"bar","encoding":{"xOffset":{"field":"g","type":"nominal","sort":null},"color":{"field":"g","type":"nominal","sort":null,"title":null}}},
{"mark":"rule","encoding":{"xOffset":{"field":"g","type":"nominal","sort":null},"y2":{"field":"h"},"color":{"field":"g","type":"nominal","sort":null,"title":null}}},
{"mark":{"type":"tick","size":4},"encoding":{"xOffset":{"field":"g","type":"nominal","sort":null},"y":{"field":"h"},"color":{"field":"g","type":"nominal","sort":null,"title":null}}},
{"mark":{"type":"tick","size":28,"color":"#000"},"encoding":{"y":{"field":"ya"}}},
{"mark":{"type":"text","baseline":"bottom","dy":-1},"encoding":{"y":{"field":"ya"},"text":{"field":"t"}}}]},
{"transform":[{"filter":"datum.p=='PT'"}],"encoding":{"x":{"field":"x","type":"nominal","title":null,"scale":{"paddingInner":0.15,"paddingOuter":0.1},"axis":{"labels":false}},"y":{"field":"m","type":"quantitative","scale":{"domain":[0,8]},"axis":{"title":"PT (sec)","values":[0,2,4,6,8],"labelOverlap":false}}},"layer":[
{"mark":"bar","encoding":{"xOffset":{"field":"g","type":"nominal","sort":null},"color":{"field":"g","type":"nominal","sort":null,"title":null}}},
{"mark":"rule","encoding":{"xOffset":{"field":"g","type":"nominal","sort":null},"y2":{"field":"h"},"color":{"field":"g","type":"nominal","sort":null,"title":null}}},
{"mark":{"type":"tick","size":4},"encoding":{"xOffset":{"field":"g","type":"nominal","sort":null},"y":{"field":"h"},"color":{"field":"g","type":"nominal","sort":null,"title":null}}},
{"mark":{"type":"tick","size":28,"color":"#000"},"encoding":{"y":{"field":"ya"}}},
{"mark":{"type":"text","baseline":"bottom","dy":-1},"encoding":{"y":{"field":"ya"},"text":{"field":"t"}}}]},
{"transform":[{"filter":"datum.p=='APTT'"}],"encoding":{"x":{"field":"x","type":"nominal","title":null,"scale":{"paddingInner":0.15,"paddingOuter":0.1},"axis":{"labels":false}},"y":{"field":"m","type":"quantitative","scale":{"domain":[0,15]},"axis":{"title":"APTT (sec)","values":[0,5,10,15],"labelOverlap":false}}},"layer":[
{"mark":"bar","encoding":{"xOffset":{"field":"g","type":"nominal","sort":null},"color":{"field":"g","type":"nominal","sort":null,"title":null}}},
{"mark":"rule","encoding":{"xOffset":{"field":"g","type":"nominal","sort":null},"y2":{"field":"h"},"color":{"field":"g","type":"nominal","sort":null,"title":null}}},
{"mark":{"type":"tick","size":4},"encoding":{"xOffset":{"field":"g","type":"nominal","sort":null},"y":{"field":"h"},"color":{"field":"g","type":"nominal","sort":null,"title":null}}},
{"mark":{"type":"tick","size":19,"color":"#000"},"encoding":{"xOffset":{"field":"g","type":"nominal","sort":null},"y":{"field":"ym"}}},
{"mark":{"type":"text","baseline":"bottom","dy":-1},"encoding":{"xOffset":{"field":"g","type":"nominal","sort":null},"y":{"field":"ym"},"text":{"field":"t"}}},
{"mark":{"type":"text","baseline":"middle","dy":4},"encoding":{"xOffset":{"field":"g","type":"nominal","sort":null},"y":{"field":"ys"},"text":{"field":"t"}}}]},
{"transform":[{"filter":"datum.p=='Glu'"}],"encoding":{"x":{"field":"x","type":"nominal","title":null,"scale":{"paddingInner":0.15,"paddingOuter":0.1},"axis":{"labels":false}},"y":{"field":"m","type":"quantitative","scale":{"domain":[0,150]},"axis":{"title":["Glucose","(mg/dL)"],"values":[0,50,100,150],"labelOverlap":false}}},"layer":[
{"mark":"bar","encoding":{"xOffset":{"field":"g","type":"nominal","sort":null},"color":{"field":"g","type":"nominal","sort":null,"title":null}}},
{"mark":"rule","encoding":{"xOffset":{"field":"g","type":"nominal","sort":null},"y2":{"field":"h"},"color":{"field":"g","type":"nominal","sort":null,"title":null}}},
{"mark":{"type":"tick","size":4},"encoding":{"xOffset":{"field":"g","type":"nominal","sort":null},"y":{"field":"h"},"color":{"field":"g","type":"nominal","sort":null,"title":null}}},
{"mark":{"type":"tick","size":28,"color":"#000"},"encoding":{"y":{"field":"ya"}}},
{"mark":{"type":"text","baseline":"bottom","dy":-1},"encoding":{"y":{"field":"ya"},"text":{"field":"t"}}}]},
{"transform":[{"filter":"datum.p=='Alb'"}],"encoding":{"x":{"field":"x","type":"nominal","title":null,"scale":{"paddingInner":0.15,"paddingOuter":0.1},"axis":{"labels":false}},"y":{"field":"m","type":"quantitative","scale":{"domain":[0,4]},"axis":{"title":"Albumin (g/dL)","values":[0,1,2,3,4],"labelOverlap":false}}},"layer":[
{"mark":"bar","encoding":{"xOffset":{"field":"g","type":"nominal","sort":null},"color":{"field":"g","type":"nominal","sort":null,"title":null}}},
{"mark":"rule","encoding":{"xOffset":{"field":"g","type":"nominal","sort":null},"y2":{"field":"h"},"color":{"field":"g","type":"nominal","sort":null,"title":null}}},
{"mark":{"type":"tick","size":4},"encoding":{"xOffset":{"field":"g","type":"nominal","sort":null},"y":{"field":"h"},"color":{"field":"g","type":"nominal","sort":null,"title":null}}},
{"mark":{"type":"tick","size":28,"color":"#000"},"encoding":{"y":{"field":"ya"}}},
{"mark":{"type":"text","baseline":"bottom","dy":-1},"encoding":{"y":{"field":"ya"},"text":{"field":"t"}}}]},
{"transform":[{"filter":"datum.p=='Glo'"}],"encoding":{"x":{"field":"x","type":"nominal","title":null,"scale":{"paddingInner":0.15,"paddingOuter":0.1},"axis":{"labels":false}},"y":{"field":"m","type":"quantitative","scale":{"domain":[0,3]},"axis":{"title":"Globulin (g/dL)","values":[0,1,2,3],"labelOverlap":false}}},"layer":[
{"mark":"bar","encoding":{"xOffset":{"field":"g","type":"nominal","sort":null},"color":{"field":"g","type":"nominal","sort":null,"title":null}}},
{"mark":"rule","encoding":{"xOffset":{"field":"g","type":"nominal","sort":null},"y2":{"field":"h"},"color":{"field":"g","type":"nominal","sort":null,"title":null}}},
{"mark":{"type":"tick","size":4},"encoding":{"xOffset":{"field":"g","type":"nominal","sort":null},"y":{"field":"h"},"color":{"field":"g","type":"nominal","sort":null,"title":null}}},
{"mark":{"type":"tick","size":28,"color":"#000"},"encoding":{"y":{"field":"ya"}}},
{"mark":{"type":"text","baseline":"bottom","dy":-1},"encoding":{"y":{"field":"ya"},"text":{"field":"t"}}}]},
{"height":113,"transform":[{"filter":"datum.p=='UN'"}],"encoding":{"x":{"field":"x","type":"nominal","title":null,"scale":{"paddingInner":0.15,"paddingOuter":0.1},"axis":{"labels":false}},"y":{"field":"m","type":"quantitative","scale":{"domain":[0,80]},"axis":{"title":"UN (mg/dL)","values":[0,20,40,60,80],"labelOverlap":false}}},"layer":[
{"mark":"bar","encoding":{"xOffset":{"field":"g","type":"nominal","sort":null},"color":{"field":"g","type":"nominal","sort":null,"title":null}}},
{"mark":"rule","encoding":{"xOffset":{"field":"g","type":"nominal","sort":null},"y2":{"field":"h"},"color":{"field":"g","type":"nominal","sort":null,"title":null}}},
{"mark":{"type":"tick","size":4},"encoding":{"xOffset":{"field":"g","type":"nominal","sort":null},"y":{"field":"h"},"color":{"field":"g","type":"nominal","sort":null,"title":null}}},
{"mark":{"type":"tick","size":19,"color":"#000"},"encoding":{"xOffset":{"field":"g","type":"nominal","sort":null},"y":{"field":"ym"}}},
{"mark":{"type":"text","baseline":"bottom","dy":-1},"encoding":{"xOffset":{"field":"g","type":"nominal","sort":null},"y":{"field":"ym"},"text":{"field":"t"}}},
{"mark":{"type":"text","baseline":"middle","angle":90},"encoding":{"xOffset":{"field":"g","type":"nominal","sort":null},"y":{"field":"yv"},"text":{"field":"t"}}}]},
{"height":113,"transform":[{"filter":"datum.p=='Cre'"}],"encoding":{"x":{"field":"x","type":"nominal","title":null,"scale":{"paddingInner":0.15,"paddingOuter":0.1},"axis":{"labels":false}},"y":{"field":"m","type":"quantitative","scale":{"domain":[0,2]},"axis":{"title":["Creatinine","(mg/dL)"],"values":[0,0.5,1,1.5,2],"format":"~g","labelOverlap":false}}},"layer":[
{"mark":"bar","encoding":{"xOffset":{"field":"g","type":"nominal","sort":null},"color":{"field":"g","type":"nominal","sort":null,"title":null}}},
{"mark":"rule","encoding":{"xOffset":{"field":"g","type":"nominal","sort":null},"y2":{"field":"h"},"color":{"field":"g","type":"nominal","sort":null,"title":null}}},
{"mark":{"type":"tick","size":4},"encoding":{"xOffset":{"field":"g","type":"nominal","sort":null},"y":{"field":"h"},"color":{"field":"g","type":"nominal","sort":null,"title":null}}},
{"mark":{"type":"tick","size":19,"color":"#000"},"encoding":{"xOffset":{"field":"g","type":"nominal","sort":null},"y":{"field":"ym"}}},
{"mark":{"type":"text","baseline":"bottom","dy":-1},"encoding":{"xOffset":{"field":"g","type":"nominal","sort":null},"y":{"field":"ym"},"text":{"field":"t"}}},
{"mark":{"type":"text","baseline":"middle","dy":4},"encoding":{"xOffset":{"field":"g","type":"nominal","sort":null},"y":{"field":"ys"},"text":{"field":"t"}}}]},
{"height":113,"transform":[{"filter":"datum.p=='Cho'"}],"encoding":{"x":{"field":"x","type":"nominal","title":null,"scale":{"paddingInner":0.15,"paddingOuter":0.1},"axis":{"labels":false}},"y":{"field":"m","type":"quantitative","scale":{"domain":[0,300]},"axis":{"title":["Cholesterol","(mg/dL)"],"values":[0,100,200,300],"labelOverlap":false}}},"layer":[
{"mark":"bar","encoding":{"xOffset":{"field":"g","type":"nominal","sort":null},"color":{"field":"g","type":"nominal","sort":null,"title":null}}},
{"mark":"rule","encoding":{"xOffset":{"field":"g","type":"nominal","sort":null},"y2":{"field":"h"},"color":{"field":"g","type":"nominal","sort":null,"title":null}}},
{"mark":{"type":"tick","size":4},"encoding":{"xOffset":{"field":"g","type":"nominal","sort":null},"y":{"field":"h"},"color":{"field":"g","type":"nominal","sort":null,"title":null}}},
{"mark":{"type":"tick","size":28,"color":"#000"},"encoding":{"y":{"field":"ya"}}},
{"mark":{"type":"text","baseline":"bottom","dy":-1},"encoding":{"y":{"field":"ya"},"text":{"field":"t"}}}]},
{"height":113,"transform":[{"filter":"datum.p=='Tri'"}],"encoding":{"x":{"field":"x","type":"nominal","title":null,"scale":{"paddingInner":0.15,"paddingOuter":0.1},"axis":{"labels":false}},"y":{"field":"m","type":"quantitative","scale":{"domain":[0,60]},"axis":{"title":["Triglycerides","(mg/dL)"],"values":[0,20,40,60],"labelOverlap":false}}},"layer":[
{"mark":"bar","encoding":{"xOffset":{"field":"g","type":"nominal","sort":null},"color":{"field":"g","type":"nominal","sort":null,"title":null}}},
{"mark":"rule","encoding":{"xOffset":{"field":"g","type":"nominal","sort":null},"y2":{"field":"h"},"color":{"field":"g","type":"nominal","sort":null,"title":null}}},
{"mark":{"type":"tick","size":4},"encoding":{"xOffset":{"field":"g","type":"nominal","sort":null},"y":{"field":"h"},"color":{"field":"g","type":"nominal","sort":null,"title":null}}},
{"mark":{"type":"tick","size":28,"color":"#000"},"encoding":{"y":{"field":"ya"}}},
{"mark":{"type":"text","baseline":"bottom","dy":-1},"encoding":{"y":{"field":"ya"},"text":{"field":"t"}}}]},
{"transform":[{"filter":"datum.p=='AST'"}],"encoding":{"x":{"field":"x","type":"nominal","title":null,"scale":{"paddingInner":0.15,"paddingOuter":0.1},"axis":{"labels":false}},"y":{"field":"m","type":"quantitative","scale":{"domain":[0,80]},"axis":{"title":"AST (U/L)","values":[0,20,40,60,80],"labelOverlap":false}}},"layer":[
{"mark":"bar","encoding":{"xOffset":{"field":"g","type":"nominal","sort":null},"color":{"field":"g","type":"nominal","sort":null,"title":null}}},
{"mark":"rule","encoding":{"xOffset":{"field":"g","type":"nominal","sort":null},"y2":{"field":"h"},"color":{"field":"g","type":"nominal","sort":null,"title":null}}},
{"mark":{"type":"tick","size":4},"encoding":{"xOffset":{"field":"g","type":"nominal","sort":null},"y":{"field":"h"},"color":{"field":"g","type":"nominal","sort":null,"title":null}}},
{"mark":{"type":"tick","size":19,"color":"#000"},"encoding":{"xOffset":{"field":"g","type":"nominal","sort":null},"y":{"field":"ym"}}},
{"mark":{"type":"text","baseline":"bottom","dy":-1},"encoding":{"xOffset":{"field":"g","type":"nominal","sort":null},"y":{"field":"ym"},"text":{"field":"t"}}},
{"mark":{"type":"text","baseline":"middle","dy":4},"encoding":{"xOffset":{"field":"g","type":"nominal","sort":null},"y":{"field":"ys"},"text":{"field":"t"}}}]},
{"transform":[{"filter":"datum.p=='ALT'"}],"encoding":{"x":{"field":"x","type":"nominal","title":null,"scale":{"paddingInner":0.15,"paddingOuter":0.1},"axis":{"labels":false}},"y":{"field":"m","type":"quantitative","scale":{"domain":[0,60]},"axis":{"title":"ALT (U/L)","values":[0,20,40,60],"labelOverlap":false}}},"layer":[
{"mark":"bar","encoding":{"xOffset":{"field":"g","type":"nominal","sort":null},"color":{"field":"g","type":"nominal","sort":null,"title":null}}},
{"mark":"rule","encoding":{"xOffset":{"field":"g","type":"nominal","sort":null},"y2":{"field":"h"},"color":{"field":"g","type":"nominal","sort":null,"title":null}}},
{"mark":{"type":"tick","size":4},"encoding":{"xOffset":{"field":"g","type":"nominal","sort":null},"y":{"field":"h"},"color":{"field":"g","type":"nominal","sort":null,"title":null}}},
{"mark":{"type":"tick","size":28,"color":"#000"},"encoding":{"y":{"field":"ya"}}},
{"mark":{"type":"text","baseline":"bottom","dy":-1},"encoding":{"y":{"field":"ya"},"text":{"field":"t"}}}]},
{"transform":[{"filter":"datum.p=='ALP'"}],"encoding":{"x":{"field":"x","type":"nominal","title":null,"scale":{"paddingInner":0.15,"paddingOuter":0.1},"axis":{"labels":false}},"y":{"field":"m","type":"quantitative","scale":{"domain":[0,300]},"axis":{"title":"ALP (U/L)","values":[0,100,200,300],"labelOverlap":false}}},"layer":[
{"mark":"bar","encoding":{"xOffset":{"field":"g","type":"nominal","sort":null},"color":{"field":"g","type":"nominal","sort":null,"title":null}}},
{"mark":"rule","encoding":{"xOffset":{"field":"g","type":"nominal","sort":null},"y2":{"field":"h"},"color":{"field":"g","type":"nominal","sort":null,"title":null}}},
{"mark":{"type":"tick","size":4},"encoding":{"xOffset":{"field":"g","type":"nominal","sort":null},"y":{"field":"h"},"color":{"field":"g","type":"nominal","sort":null,"title":null}}},
{"mark":{"type":"tick","size":28,"color":"#000"},"encoding":{"y":{"field":"ya"}}},
{"mark":{"type":"text","baseline":"bottom","dy":-1},"encoding":{"y":{"field":"ya"},"text":{"field":"t"}}}]},
{"transform":[{"filter":"datum.p=='Ca'"}],"encoding":{"x":{"field":"x","type":"nominal","title":null,"scale":{"paddingInner":0.15,"paddingOuter":0.1},"axis":{"labels":false}},"y":{"field":"m","type":"quantitative","scale":{"domain":[0,15]},"axis":{"title":"Ca (mg/dL)","values":[0,5,10,15],"labelOverlap":false}}},"layer":[
{"mark":"bar","encoding":{"xOffset":{"field":"g","type":"nominal","sort":null},"color":{"field":"g","type":"nominal","sort":null,"title":null}}},
{"mark":"rule","encoding":{"xOffset":{"field":"g","type":"nominal","sort":null},"y2":{"field":"h"},"color":{"field":"g","type":"nominal","sort":null,"title":null}}},
{"mark":{"type":"tick","size":4},"encoding":{"xOffset":{"field":"g","type":"nominal","sort":null},"y":{"field":"h"},"color":{"field":"g","type":"nominal","sort":null,"title":null}}},
{"mark":{"type":"tick","size":28,"color":"#000"},"encoding":{"y":{"field":"ya"}}},
{"mark":{"type":"text","baseline":"bottom","dy":-1},"encoding":{"y":{"field":"ya"},"text":{"field":"t"}}}]},
{"transform":[{"filter":"datum.p=='Phos'"}],"encoding":{"x":{"field":"x","type":"nominal","title":null,"scale":{"paddingInner":0.15,"paddingOuter":0.1},"axis":{"labelAngle":-45}},"y":{"field":"m","type":"quantitative","scale":{"domain":[0,10]},"axis":{"title":"Phos (mg/dL)","values":[0,2,4,6,8,10],"labelOverlap":false}}},"layer":[
{"mark":"bar","encoding":{"xOffset":{"field":"g","type":"nominal","sort":null},"color":{"field":"g","type":"nominal","sort":null,"title":null}}},
{"mark":"rule","encoding":{"xOffset":{"field":"g","type":"nominal","sort":null},"y2":{"field":"h"},"color":{"field":"g","type":"nominal","sort":null,"title":null}}},
{"mark":{"type":"tick","size":4},"encoding":{"xOffset":{"field":"g","type":"nominal","sort":null},"y":{"field":"h"},"color":{"field":"g","type":"nominal","sort":null,"title":null}}},
{"mark":{"type":"tick","size":19,"color":"#000"},"encoding":{"xOffset":{"field":"g","type":"nominal","sort":null},"y":{"field":"ym"}}},
{"mark":{"type":"text","baseline":"bottom","dy":-1},"encoding":{"xOffset":{"field":"g","type":"nominal","sort":null},"y":{"field":"ym"},"text":{"field":"t"}}},
{"mark":{"type":"text","baseline":"middle","dy":4},"encoding":{"xOffset":{"field":"g","type":"nominal","sort":null},"y":{"field":"ys"},"text":{"field":"t"}}}]},
{"transform":[{"filter":"datum.p=='Na'"}],"encoding":{"x":{"field":"x","type":"nominal","title":null,"scale":{"paddingInner":0.15,"paddingOuter":0.1},"axis":{"labelAngle":-45}},"y":{"field":"m","type":"quantitative","scale":{"domain":[0,200]},"axis":{"title":"Na (mmol/L)","values":[0,50,100,150,200],"labelOverlap":false}}},"layer":[
{"mark":"bar","encoding":{"xOffset":{"field":"g","type":"nominal","sort":null},"color":{"field":"g","type":"nominal","sort":null,"title":null}}},
{"mark":"rule","encoding":{"xOffset":{"field":"g","type":"nominal","sort":null},"y2":{"field":"h"},"color":{"field":"g","type":"nominal","sort":null,"title":null}}},
{"mark":{"type":"tick","size":4},"encoding":{"xOffset":{"field":"g","type":"nominal","sort":null},"y":{"field":"h"},"color":{"field":"g","type":"nominal","sort":null,"title":null}}},
{"mark":{"type":"tick","size":28,"color":"#000"},"encoding":{"y":{"field":"ya"}}},
{"mark":{"type":"text","baseline":"bottom","dy":-1},"encoding":{"y":{"field":"ya"},"text":{"field":"t"}}}]},
{"transform":[{"filter":"datum.p=='K'"}],"encoding":{"x":{"field":"x","type":"nominal","title":null,"scale":{"paddingInner":0.15,"paddingOuter":0.1},"axis":{"labelAngle":-45}},"y":{"field":"m","type":"quantitative","scale":{"domain":[0,6]},"axis":{"title":"K (mmol/L)","values":[0,2,4,6],"labelOverlap":false}}},"layer":[
{"mark":"bar","encoding":{"xOffset":{"field":"g","type":"nominal","sort":null},"color":{"field":"g","type":"nominal","sort":null,"title":null}}},
{"mark":"rule","encoding":{"xOffset":{"field":"g","type":"nominal","sort":null},"y2":{"field":"h"},"color":{"field":"g","type":"nominal","sort":null,"title":null}}},
{"mark":{"type":"tick","size":4},"encoding":{"xOffset":{"field":"g","type":"nominal","sort":null},"y":{"field":"h"},"color":{"field":"g","type":"nominal","sort":null,"title":null}}},
{"mark":{"type":"tick","size":28,"color":"#000"},"encoding":{"y":{"field":"ya"}}},
{"mark":{"type":"text","baseline":"bottom","dy":-1},"encoding":{"y":{"field":"ya"},"text":{"field":"t"}}}]},
{"transform":[{"filter":"datum.p=='Cl'"}],"encoding":{"x":{"field":"x","type":"nominal","title":null,"scale":{"paddingInner":0.15,"paddingOuter":0.1},"axis":{"labelAngle":-45}},"y":{"field":"m","type":"quantitative","scale":{"domain":[0,150]},"axis":{"title":"Cl (mmol/L)","values":[0,50,100,150],"labelOverlap":false}}},"layer":[
{"mark":"bar","encoding":{"xOffset":{"field":"g","type":"nominal","sort":null},"color":{"field":"g","type":"nominal","sort":null,"title":null}}},
{"mark":"rule","encoding":{"xOffset":{"field":"g","type":"nominal","sort":null},"y2":{"field":"h"},"color":{"field":"g","type":"nominal","sort":null,"title":null}}},
{"mark":{"type":"tick","size":4},"encoding":{"xOffset":{"field":"g","type":"nominal","sort":null},"y":{"field":"h"},"color":{"field":"g","type":"nominal","sort":null,"title":null}}},
{"mark":{"type":"text","baseline":"middle","dy":4},"encoding":{"xOffset":{"field":"g","type":"nominal","sort":null},"y":{"field":"ys"},"text":{"field":"t"}}}]}
],
"config":{
"font":"Liberation Sans",
"view":{"stroke":null,"discreteWidth":130,"continuousHeight":106},
"scale":{"offsetBandPaddingInner":0.08},
"range":{"category":["#A6A6A6","#000000","#FF8C00","#FF1A1A"]},
"axis":{"domainColor":"#000","domainWidth":1.5,"tickColor":"#000","tickWidth":1.5,"tickSize":4,"labelColor":"#000","titleColor":"#000","labelFontSize":15,"titleFontSize":15,"titleFontWeight":"normal","grid":false,"labelPadding":2,"titlePadding":2,"titleLineHeight":14},
"legend":{"orient":"top","direction":"horizontal","labelFontSize":14,"labelColor":"#000","symbolType":"square","symbolSize":170,"symbolStrokeWidth":0,"columnPadding":8,"labelOffset":3,"offset":0,"layout":{"top":{"anchor":"middle"}}},
"tick":{"thickness":1.3},
"rule":{"strokeWidth":1.3},
"text":{"fontSize":16,"color":"#000"},
"title":{"color":"#000"}
}
}
